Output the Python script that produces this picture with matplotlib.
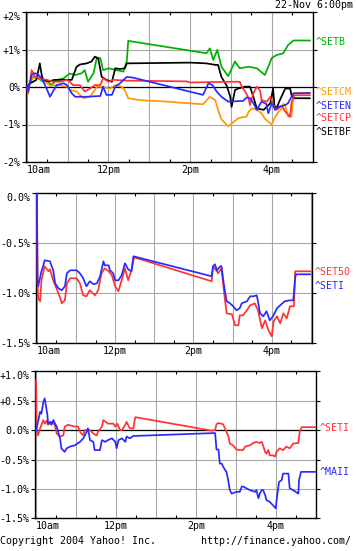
import matplotlib
matplotlib.use('Agg')
import matplotlib.pyplot as plt
from matplotlib.ticker import FixedLocator

plt.rcParams['font.family'] = ['DejaVu Sans Mono', 'DejaVu Sans']
FS = 7.2

# ---------------- data (minutes after 10:00, % change) ----------------
# Panel 1
SETB_t = [0, 2, 9, 17, 24, 30, 36, 44, 54, 63, 71, 81, 85, 90, 98, 103, 108, 112, 120, 132,
          142, 147, 149, 264, 269, 274, 280, 286, 296, 306, 313, 326, 338, 350, 360, 367, 377, 384, 392, 416]
SETB_v = [0, 0.01, 0.27, 0.23, 0.14, 0.18, 0.05, 0.19, 0.23, 0.36, 0.32, 0.37, 0.45, 0.14, 0.37, 0.79, 0.77, 0.45, 0.5, 0.45,
          0.41, 0.7, 1.23, 0.9, 1.03, 0.72, 0.99, 0.54, 0.29, 0.68, 0.5, 0.54, 0.5, 0.32, 0.77, 0.85, 0.9, 1.12, 1.24, 1.24]

SETCM_t = [0, 7, 17, 27, 34, 44, 59, 63, 73, 83, 93, 103, 112, 122, 130, 139, 144, 149, 166, 206,
           235, 259, 269, 277, 281, 286, 296, 303, 311, 323, 326, 331, 338, 345, 350, 360, 365, 370, 375, 377,
           380, 384, 389, 392, 416]
SETCM_v = [0, 0.23, 0.26, 0.14, 0.03, 0.05, 0.01, -0.08, -0.12, -0.3, -0.26, 0.01, 0, -0.04, 0.05, 0.01, -0.08, -0.3, -0.35, -0.39,
           -0.43, -0.46, -0.26, -0.35, -0.61, -0.86, -1.05, -0.95, -0.83, -0.79, -0.66, -0.57, -0.61, -0.7, -0.85, -1.0, -0.8, -0.66, -0.57, -0.45,
           -0.5, -0.79, -0.79, -0.16, -0.16]

SETBF_t = [0, 5, 14, 19, 22, 24, 31, 41, 59, 66, 73, 78, 88, 95, 100, 105, 110, 117, 125, 130,
           137, 144, 147, 240, 264, 277, 281, 286, 294, 299, 301, 306, 311, 321, 328, 333, 338, 348, 358, 362,
           364, 367, 372, 380, 387, 389, 393, 416]
SETBF_v = [0, 0.1, 0.19, 0.63, 0.3, 0.19, 0.15, 0.19, 0.19, 0.19, 0.54, 0.6, 0.63, 0.68, 0.81, 0.75, 0.27, 0.19, 0.14, 0.5,
           0.48, 0.5, 0.63, 0.65, 0.63, 0.59, 0.59, 0.27, 0.03, -0.26, -0.53, -0.08, -0.04, 0.01, 0.01, -0.26, -0.57, -0.61, -0.43, -0.04,
           -0.5, -0.57, -0.35, -0.04, -0.04, -0.21, -0.3, -0.3]

SETCP_t = [0, 2, 7, 12, 19, 29, 39, 49, 59, 63, 68, 78, 85, 93, 100, 108, 112, 120, 127, 147,
           235, 240, 299, 313, 316, 321, 326, 328, 333, 338, 343, 345, 353, 358, 362, 367, 375, 380, 387, 389,
           393, 416]
SETCP_v = [0, -0.17, 0.45, 0.27, 0.23, 0.19, 0.14, 0.14, 0.19, 0.14, 0.05, 0.05, -0.12, -0.04, 0.05, 0.05, 0.23, 0.14, 0.19, 0.17,
           0.15, 0.12, 0.14, 0.14, 0.01, -0.12, -0.3, -0.48, -0.17, 0.01, -0.1, -0.35, -0.39, -0.26, -0.48, -0.61, -0.5, -0.66, -0.79, -0.43,
           -0.22, -0.22]

SETEN_t = [0, 2, 7, 12, 17, 22, 29, 34, 39, 44, 54, 59, 66, 71, 88, 108, 112, 117, 125, 130,
           137, 142, 147, 156, 259, 267, 273, 279, 286, 296, 318, 323, 328, 333, 338, 345, 352, 355, 360, 365,
           370, 380, 384, 392, 416]
SETEN_v = [0, -0.1, 0.32, 0.37, 0.32, 0.23, -0.04, -0.26, -0.1, 0.05, 0.1, 0.05, -0.17, -0.26, -0.26, -0.24, 0.01, -0.21, -0.21, 0.01,
           0.1, 0.19, 0.27, 0.25, -0.21, 0.1, 0.05, -0.12, -0.26, -0.39, -0.37, -0.28, -0.3, -0.43, -0.61, -0.39, -0.45, -0.7, -0.43, -0.61,
           -0.53, -0.48, -0.43, -0.17, -0.16]

# Panel 2
SET50_t = [0, 1, 2, 5, 7, 12, 18, 20, 25, 30, 36, 38, 43, 46, 51, 61, 66, 71, 76, 81,
           89, 94, 99, 104, 110, 115, 120, 125, 130, 135, 140, 145, 149, 268, 270, 276, 278, 283, 286, 288,
           291, 299, 304, 309, 311, 316, 322, 327, 334, 339, 345, 350, 355, 360, 363, 368, 373, 378, 383, 388,
           394, 396, 419]
SET50_v = [0, -0.9, -1.05, -1.08, -0.87, -0.73, -0.78, -0.76, -0.87, -0.95, -1.05, -1.1, -1.07, -0.9, -0.85, -0.85, -0.9, -1.02, -1.03, -0.97,
           -1.02, -0.97, -0.8, -0.75, -0.78, -0.82, -0.93, -0.98, -0.87, -0.75, -0.87, -0.77, -0.64, -0.88, -0.73, -0.78, -0.8, -0.75, -0.93, -1.05,
           -1.2, -1.21, -1.32, -1.32, -1.22, -1.22, -1.17, -1.12, -1.1, -1.17, -1.35, -1.27, -1.37, -1.43, -1.28, -1.23, -1.3, -1.2, -1.25, -1.13,
           -1.13, -0.78, -0.78]

SETI2_t = [0, 1, 2, 7, 10, 12, 20, 25, 28, 33, 38, 43, 46, 51, 61, 66, 71, 76, 81, 87,
           92, 97, 102, 104, 110, 112, 117, 120, 125, 130, 135, 140, 145, 148, 268, 270, 273, 276, 281, 283,
           286, 288, 291, 296, 301, 306, 311, 314, 322, 327, 332, 337, 339, 342, 347, 352, 357, 362, 368, 373,
           380, 388, 393, 396, 397, 419]
SETI2_v = [0, -0.87, -0.93, -0.78, -0.72, -0.67, -0.68, -0.77, -0.9, -0.95, -0.97, -0.93, -0.8, -0.77, -0.77, -0.8, -0.85, -0.93, -0.88, -0.91,
           -0.9, -0.83, -0.68, -0.72, -0.72, -0.77, -0.8, -0.87, -0.87, -0.82, -0.7, -0.76, -0.78, -0.63, -0.83, -0.73, -0.71, -0.77, -0.73, -0.73,
           -0.88, -0.97, -1.08, -1.1, -1.13, -1.17, -1.15, -1.1, -1.08, -1.03, -1.03, -1.02, -1.08, -1.2, -1.23, -1.18, -1.27, -1.23, -1.15, -1.12,
           -1.08, -1.07, -1.07, -0.85, -0.81, -0.81]

# Panel 3
SETI3_t = [0, 1, 3, 6, 11, 13, 16, 18, 23, 28, 31, 36, 41, 43, 48, 58, 63, 66, 71, 73,
           81, 86, 91, 93, 99, 101, 108, 116, 119, 122, 126, 129, 134, 136, 138, 141, 146, 149, 264, 269,
           271, 274, 281, 286, 289, 291, 296, 301, 306, 311, 314, 321, 326, 331, 336, 339, 341, 344, 346, 349,
           351, 356, 359, 361, 366, 371, 376, 381, 386, 394, 396, 399, 419]
SETI3_v = [0.85, 0, -0.09, 0.03, 0.17, 0.11, 0.16, 0.09, 0.14, 0.09, -0.06, -0.11, -0.09, 0.06, 0.09, 0.06, 0.06, -0.03, -0.09, 0,
           0, -0.06, -0.09, -0.03, 0.06, 0.17, 0.11, 0.11, 0.06, 0.11, 0, 0, 0.09, 0.14, 0.09, 0.03, 0.03, 0.22, -0.01, 0,
           0.1, 0.12, 0.1, -0.03, -0.11, -0.23, -0.26, -0.33, -0.34, -0.34, -0.28, -0.26, -0.22, -0.2, -0.22, -0.2, -0.26, -0.37, -0.4, -0.34,
           -0.43, -0.43, -0.45, -0.37, -0.31, -0.34, -0.28, -0.31, -0.23, -0.22, -0.03, 0.05, 0.05]

MAII_t = [0, 3, 6, 8, 11, 13, 15, 17, 18, 21, 23, 26, 28, 31, 36, 38, 43, 46, 51, 58,
          66, 71, 76, 78, 81, 86, 88, 96, 99, 104, 108, 114, 119, 121, 124, 129, 134, 136, 141, 146,
          269, 271, 274, 276, 279, 281, 284, 286, 289, 291, 294, 301, 306, 309, 311, 316, 321, 329, 331, 334,
          336, 339, 341, 344, 346, 351, 356, 360, 362, 365, 369, 371, 379, 381, 386, 394, 395, 398, 419]
MAII_v = [0, 0.14, 0.31, 0.28, 0.48, 0.54, 0.4, 0.26, 0.11, 0.14, 0.09, 0.17, 0.12, 0.06, -0.14, -0.31, -0.37, -0.31, -0.28, -0.26,
          -0.2, -0.14, -0.03, 0.03, -0.17, -0.2, -0.34, -0.34, -0.17, -0.2, -0.17, -0.14, -0.2, -0.31, -0.17, -0.14, -0.2, -0.11, -0.14, -0.1,
          -0.05, -0.33, -0.33, -0.57, -0.57, -0.62, -0.68, -0.71, -0.88, -1.02, -1.08, -1.05, -1.05, -0.96, -0.96, -0.99, -1.02, -1.05, -1.02, -1.16,
          -1.08, -1.02, -1.02, -1.1, -1.19, -1.22, -1.28, -1.33, -1.13, -0.88, -0.85, -0.74, -0.74, -0.99, -1.02, -1.08, -0.85, -0.71, -0.71]

XTICK_LABELS = ['10am', '', '12pm', '', '2pm', '', '4pm', '']
P1_YTICKS = [2, 1, 0, -1, -2]
P1_YLABELS = ['+2%', '+1%', '0%', '-1%', '-2%']
P2_YTICKS = [0, -0.5, -1.0, -1.5]
P2_YLABELS = ['0.0%', '-0.5%', '-1.0%', '-1.5%']
P3_YTICKS = [1.0, 0.5, 0, -0.5, -1.0, -1.5]
P3_YLABELS = ['+1.0%', '+0.5%', '0.0%', '-0.5%', '-1.0%', '-1.5%']

GREEN, ORANGE, BLUE, RED, BLACK = '#00b000', '#ff9900', '#2a2aff', '#ff3333', '#000000'
GRID = '#a8a8a8'

# ---------------- layout ----------------
W, H = 357, 551
fig = plt.figure(figsize=(W / 100, H / 100), dpi=100)
fig.patch.set_facecolor('white')


def add_axes(left, top, right, bottom):
    return fig.add_axes([left / W, 1 - bottom / H, (right - left) / W, (bottom - top) / H])


def style(ax, xlim, ylim, yticks, ylabels, zero_line):
    ax.set_xlim(*xlim)
    ax.set_ylim(*ylim)
    ax.xaxis.set_major_locator(FixedLocator(list(range(0, 421, 60))))
    ax.xaxis.set_minor_locator(FixedLocator(list(range(30, 421, 60))))
    ax.set_xticklabels(XTICK_LABELS)
    ax.set_yticks(yticks)
    ax.set_yticklabels(ylabels)
    ax.grid(True, which='major', color=GRID, lw=0.8)
    ax.set_axisbelow(True)
    ax.tick_params(axis='x', which='major', length=0, pad=2, labelsize=FS)
    ax.tick_params(axis='x', which='minor', direction='in', length=2.5, width=0.8,
                   top=True, bottom=True)
    ax.tick_params(axis='y', which='major', direction='out', length=3, width=0.8,
                   left=True, right=True, pad=0.8, labelsize=FS)
    labels = ax.get_xticklabels()
    labels[0].set_horizontalalignment('left')
    ylabs = ax.get_yticklabels()
    ylabs[0].set_verticalalignment('top')
    for s in ax.spines.values():
        s.set_linewidth(1.0)
        s.set_color('black')
    if zero_line:
        ax.axhline(0, color='black', lw=0.9, zorder=1.5)


def name_label(ax, text, y, color, dx=2.2):
    ax.annotate(text, xy=(1, y), xycoords=ax.get_yaxis_transform(), xytext=(dx, 0),
                textcoords='offset points', ha='left', va='center', color=color,
                fontsize=FS, annotation_clip=False)


LW = 1.25

# Panel 1
ax1 = add_axes(26, 12, 313, 162)
style(ax1, (-1.3, 420.7), (-2, 2), P1_YTICKS, P1_YLABELS, True)
ax1.plot(SETB_t, SETB_v, color=GREEN, lw=LW, zorder=3)
ax1.plot(SETCM_t, SETCM_v, color=ORANGE, lw=LW, zorder=3)
ax1.plot(SETBF_t, SETBF_v, color=BLACK, lw=LW, zorder=3)
ax1.plot(SETCP_t, SETCP_v, color=RED, lw=LW, zorder=3)
ax1.plot(SETEN_t, SETEN_v, color=BLUE, lw=LW, zorder=3)
name_label(ax1, '^SETB', 1.2, GREEN)
name_label(ax1, '^SETCM', -0.13, ORANGE)
name_label(ax1, '^SETEN', -0.51, BLUE)
name_label(ax1, '^SETCP', -0.83, RED)
name_label(ax1, '^SETBF', -1.2, BLACK)

# Panel 2
ax2 = add_axes(35.7, 193.3, 311.7, 343.3)
style(ax2, (-1.8, 421.3), (-1.5, 0), P2_YTICKS, P2_YLABELS, False)
ax2.plot(SET50_t, SET50_v, color=RED, lw=LW, zorder=3)
ax2.plot(SETI2_t, SETI2_v, color=BLUE, lw=LW, zorder=3)
name_label(ax2, '^SET50', -0.785, RED, dx=2.0)
name_label(ax2, '^SETI', -0.93, BLUE, dx=2.0)

# Panel 3
ax3 = add_axes(35, 371.3, 316, 518.3)
style(ax3, (-1.6, 420.5), (-1.5, 1.0), P3_YTICKS, P3_YLABELS, True)
ax3.plot(SETI3_t, SETI3_v, color=RED, lw=LW, zorder=3)
ax3.plot(MAII_t, MAII_v, color=BLUE, lw=LW, zorder=3)
name_label(ax3, '^SETI', 0.03, RED, dx=2.9)
name_label(ax3, '^MAII', -0.71, BLUE, dx=2.9)

# Header / footer
fig.text(353 / W, 1 - 5.5 / H, '22-Nov 6:00pm', ha='right', va='center', fontsize=FS)
fig.text(0 / W, 1 - 541.5 / H, 'Copyright 2004 Yahoo! Inc.', ha='left', va='center', fontsize=FS)
fig.text(351 / W, 1 - 541.5 / H, 'http://finance.yahoo.com/', ha='right', va='center', fontsize=FS)

fig.savefig('out.png', dpi=100, facecolor='white')
